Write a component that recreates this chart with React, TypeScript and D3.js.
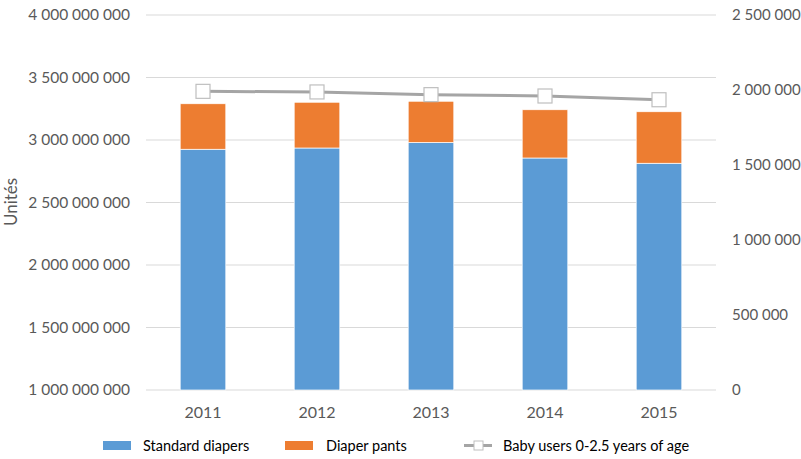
import React from "react";
import * as d3 from "d3";

const years = ["2011", "2012", "2013", "2014", "2015"];
const standardDiapers = [2926000000, 2936000000, 2980000000, 2856000000, 2814000000];
const diaperPants = [364000000, 366000000, 330000000, 386000000, 412000000];
const babyUsers = [1991000, 1987000, 1969000, 1960000, 1935000];
const leftTicks = [1000000000, 1500000000, 2000000000, 2500000000, 3000000000, 3500000000, 4000000000];
const rightTicks = [0, 500000, 1000000, 1500000, 2000000, 2500000];

const W = 801, H = 459;
const margin = { left: 146, right: 85, top: 15, bottom: 69 };
const fmt = (v: number) => d3.format(",")(v).replace(/,/g, " ");
const FONT = "Lato, 'Open Sans', sans-serif";
const TXT = "#595959";

export default function App() {
  const x = d3.scaleBand().domain(years).range([margin.left, W - margin.right]).paddingInner(0.6).paddingOuter(0.3);
  const yL = d3.scaleLinear().domain([1000000000, 4000000000]).range([H - margin.bottom, margin.top]);
  const yR = d3.scaleLinear().domain([0, 2500000]).range([H - margin.bottom, margin.top]);
  const line = d3.line<number>().x((_, i) => x(years[i])! + x.bandwidth() / 2).y((d) => yR(d));
  const stack = years.map((y, i) => ({ y, s: standardDiapers[i], p: diaperPants[i] }));

  return (
    <svg width={W} height={H} style={{ position: "absolute", left: 0, top: 0, background: "#fff" }} fontFamily={FONT}>
      {leftTicks.map((t) => (
        <g key={t}>
          <line x1={margin.left} x2={W - margin.right} y1={yL(t)} y2={yL(t)} stroke="#d9d9d9" strokeWidth={1} />
          <text x={130} y={yL(t)} dy="0.35em" textAnchor="end" fontSize={15.5} fill={TXT}>{fmt(t)}</text>
        </g>
      ))}
      {rightTicks.map((t) => (
        <text key={t} x={732} y={yR(t)} dy="0.35em" textAnchor="start" fontSize={15} fill={TXT}>{fmt(t)}</text>
      ))}
      <text transform={`translate(17,202) rotate(-90)`} textAnchor="middle" fontSize={17} fill={TXT}>Unités</text>
      {stack.map((d) => (
        <g key={d.y}>
          <rect x={x(d.y)} width={x.bandwidth()} y={yL(d.s)} height={yL(1000000000) - yL(d.s)} fill="#5B9BD5" stroke="#fff" strokeWidth={0.7} />
          <rect x={x(d.y)} width={x.bandwidth()} y={yL(d.s + d.p)} height={yL(d.s) - yL(d.s + d.p)} fill="#ED7D31" stroke="#fff" strokeWidth={0.7} />
          <text x={x(d.y)! + x.bandwidth() / 2} y={412} dy="0.35em" textAnchor="middle" fontSize={16} fill={TXT}>{d.y}</text>
        </g>
      ))}
      <path d={line(babyUsers)!} fill="none" stroke="#A5A5A5" strokeWidth={3} />
      {babyUsers.map((v, i) => (
        <rect key={i} x={x(years[i])! + x.bandwidth() / 2 - 7} y={yR(v) - 7} width={14} height={14} fill="#fff" stroke="#BFBFBF" strokeWidth={1.2} />
      ))}
      <g fontSize={14.5} fill="#000">
        <rect x={103} y={441} width={28} height={9} fill="#5B9BD5" />
        <text x={143} y={446} dy="0.35em">Standard diapers</text>
        <rect x={285} y={441} width={28} height={9} fill="#ED7D31" />
        <text x={326} y={446} dy="0.35em">Diaper pants</text>
        <line x1={464} x2={492} y1={445.5} y2={445.5} stroke="#A5A5A5" strokeWidth={3} />
        <rect x={474} y={441} width={9} height={9} fill="#fff" stroke="#BFBFBF" />
        <text x={503} y={446} dy="0.35em">Baby users 0-2.5 years of age</text>
      </g>
    </svg>
  );
}
